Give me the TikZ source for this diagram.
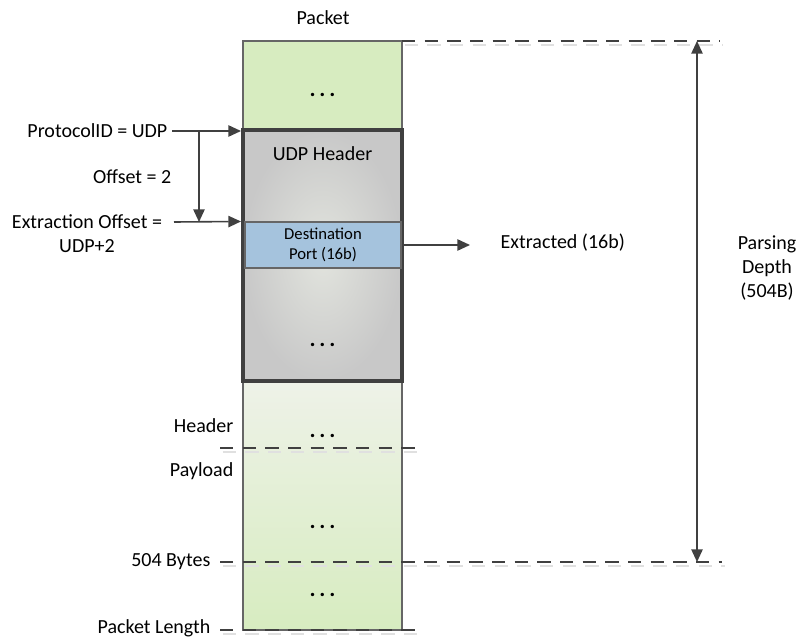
\documentclass[tikz,border=0pt]{standalone}
\usepackage{fontspec}
\setmainfont{Carlito}
\usetikzlibrary{arrows.meta,positioning,calc}
\definecolor{linegray}{HTML}{404040}
\definecolor{pktgreen}{HTML}{D7ECC0}
\definecolor{pktgreenlt}{HTML}{EEF2E8}
\definecolor{hdrgray}{HTML}{C8C8C8}
\definecolor{hdrgraylt}{HTML}{E2E4DE}
\definecolor{portblue}{HTML}{A5C3DD}

\begin{document}
\begin{tikzpicture}[
  x=0.75pt, y=-0.75pt,
  font=\fontsize{15}{18}\selectfont,
  >={Triangle[length=9.5pt, width=8.5pt]},
  seg/.style={draw=linegray!80, line width=0.8pt, minimum width=159*0.75pt, inner sep=0pt},
  hdrbox/.style={draw=linegray, line width=3pt, minimum width=159*0.75pt, inner sep=0pt,
    inner color=hdrgraylt, outer color=hdrgray},
  field/.style={draw=linegray!80, line width=0.8pt, fill=portblue, minimum width=156*0.75pt,
    minimum height=46*0.75pt, align=center, inner sep=0pt, font=\fontsize{12.5}{14.5}\selectfont},
  dots/.style={font=\fontsize{17}{18}\selectfont\bfseries},
  lbl/.style={align=center},
  arr/.style={->, draw=linegray, line width=1.2pt},
  bound/.style={draw=linegray, line width=1.2pt, dash pattern=on 10pt off 7pt,
    preaction={draw=black!12, line width=1.2pt, dash pattern=on 10pt off 7pt,
      transform canvas={shift={(2pt,-3.2pt)}}}},
]
\useasboundingbox (0,0) rectangle (798,638);
% packet column
\node[seg, fill=pktgreen, minimum height=89*0.75pt] (front) at (322.5,85.5) {};
\node[dots] (frontdots) at (322.5,95) {.\,.\,.};
\node[seg, top color=pktgreenlt, bottom color=pktgreen, minimum height=249*0.75pt] (rest) at (322.5,505.5) {};
\node[hdrbox, minimum height=251*0.75pt] (udp) at (322.5,255.5) {};
\node (udphdr) at (322.5,154) {UDP Header};
\node[field] (dport) at (323,245) {Destination\\Port (16b)};
\node[dots] (udpdots) at (322.5,345) {.\,.\,.};
\node[dots] (hdrdots) at (322.5,436) {.\,.\,.};
\node[dots] (paydots) at (322.5,527) {.\,.\,.};
\node[dots] (taildots) at (322.5,595) {.\,.\,.};
\node (title) at (323,18) {Packet};
% boundaries
\coordinate (topL) at (402,41);
\coordinate (topR) at (720,41);
\coordinate (hdrL) at (220,448);
\coordinate (hdrR) at (420,448);
\coordinate (bytesL) at (220,562);
\coordinate (bytesR) at (722,562);
\coordinate (lenL) at (220,630);
\coordinate (lenR) at (420,630);
\draw[bound] (topL) -- (topR);
\draw[bound] (hdrL) -- (hdrR);
\draw[bound] (bytesL) -- (bytesR);
\draw[bound] (lenL) -- (lenR);
% left labels
\node[anchor=east] (pid) at (172,131) {ProtocolID = UDP};
\node[anchor=east] (ofs) at (176,177) {Offset = 2};
\node[lbl] (exoff) at (87,234) {Extraction Offset =\\UDP+2};
\node[anchor=east] (hdrlbl) at (238,426) {Header};
\node[anchor=east] (paylbl) at (238,471) {Payload};
\node[anchor=east] (byteslbl) at (215,562) {504 Bytes};
\node[anchor=east] (lenlbl) at (215,628) {Packet Length};
% right labels
\node[anchor=west] (ext) at (496,243) {Extracted (16b)};
\node[lbl] (depth) at (767,268) {Parsing\\Depth\\(504B)};
% arrows
\coordinate (exstart) at (174,222);
\coordinate (ofsTop) at (199,131);
\coordinate (ofsBot) at (199,222);
\coordinate (extTip) at (470,245);
\coordinate (depthTop) at (697,41);
\coordinate (depthBot) at (697,562);
\draw[arr] (pid.east) -- (udp.west |- pid.east);
\draw[arr] (exstart) -- (udp.west |- dport.north);
\draw[arr] (ofsTop) -- (ofsBot);
\draw[arr] (dport.east) -- (extTip);
\draw[arr, <->] (depthTop) -- (depthBot);
\end{tikzpicture}
\end{document}
